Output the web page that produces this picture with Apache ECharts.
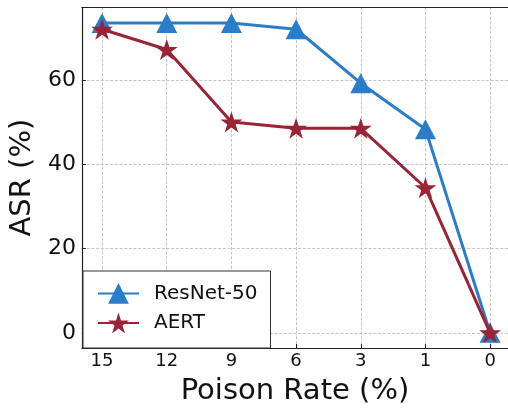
<!DOCTYPE html>
<html>
<head>
<meta charset="utf-8">
<script src="https://cdn.jsdelivr.net/npm/echarts@6/dist/echarts.min.js"></script>
<style>
  html, body { margin: 0; padding: 0; background: #fff; }
  #chart { width: 508px; height: 411px; }
</style>
</head>
<body>
<div id="chart"></div>
<script>
// Poison rates (%) shown along the x axis, highest first
const poisonRates = ['15', '12', '9', '6', '3', '1', '0'];
// Attack success rate (%) per poison rate
const resnet50 = [73.5, 73.5, 73.5, 72.0, 59.2, 48.3, 0];
const aert = [72.0, 67.2, 50.0, 48.5, 48.5, 34.4, 0];
const yTicks = [0, 20, 40, 60];

const seriesNames = ['ResNet-50', 'AERT'];
const BLUE = '#2a7dc8';
const RED = '#9b2336';
const STAR = 'path://M0,-1 L0.2245,-0.309 L0.951,-0.309 L0.363,0.118 L0.588,0.809 L0,0.382 L-0.588,0.809 L-0.363,0.118 L-0.951,-0.309 L-0.2245,-0.309 Z';
const FONT = 'DejaVu Sans';

const xIdx = poisonRates.map((_, i) => i);
const toPairs = vals => vals.map((v, i) => [i, v]);

const X_MIN = -0.312, X_MAX = 6.2765;
const spine = { show: true, onZero: false, lineStyle: { color: '#222', width: 1.2 } };
const gridLine = { show: true, lineStyle: { color: '#c4c4c4', width: 1, type: [3, 1.7] } };

const chart = echarts.init(document.getElementById('chart'), null, { renderer: 'canvas' });
chart.setOption({
  animation: false,
  backgroundColor: '#fff',
  textStyle: { fontFamily: FONT },
  grid: { left: 79, top: 7.3, right: 0, height: 343.7 },
  xAxis: [
    {
      type: 'value',
      min: X_MIN, max: X_MAX,
      name: 'Poison Rate (%)',
      nameLocation: 'middle',
      nameGap: 29,
      nameTextStyle: { fontSize: 29, color: '#111', fontFamily: FONT },
      axisLine: spine,
      axisTick: { show: true, inside: true, length: 4, customValues: xIdx, lineStyle: { color: '#222' } },
      axisLabel: {
        customValues: xIdx, margin: 4, fontSize: 18, color: '#111', fontFamily: FONT,
        formatter: v => poisonRates[Math.round(v)]
      },
      splitLine: gridLine
    },
    {
      // top frame line only
      type: 'value',
      position: 'top',
      min: X_MIN, max: X_MAX,
      axisLine: spine,
      axisTick: { show: false },
      axisLabel: { show: false },
      splitLine: { show: false }
    }
  ],
  yAxis: {
    type: 'value',
    min: -3.6, max: 77.2,
    name: 'ASR (%)',
    nameLocation: 'middle',
    nameGap: 42,
    nameTextStyle: { fontSize: 29, color: '#111', fontFamily: FONT },
    axisLine: spine,
    axisTick: { show: true, inside: true, length: 4, customValues: yTicks, lineStyle: { color: '#222' } },
    axisLabel: { customValues: yTicks, margin: 6, fontSize: 22, color: '#111', fontFamily: FONT },
    splitLine: gridLine
  },
  legend: {
    orient: 'vertical',
    left: 83, top: 271,
    padding: [12, 13, 14.6, 14],
    itemWidth: 41, itemHeight: 26, itemGap: 8.8,
    borderColor: '#333', borderWidth: 1, borderRadius: 0,
    backgroundColor: '#fff',
    textStyle: { fontSize: 20, color: '#111', fontFamily: FONT, padding: [0, 0, 0, 10] },
    data: seriesNames,
    z: 10
  },
  series: [
    {
      name: seriesNames[0],
      type: 'line',
      data: toPairs(resnet50),
      symbol: 'triangle',
      symbolSize: [21, 20],
      color: BLUE,
      lineStyle: { color: BLUE, width: 3 },
      itemStyle: { color: BLUE },
      z: 2
    },
    {
      name: seriesNames[1],
      type: 'line',
      data: toPairs(aert),
      symbol: STAR,
      symbolSize: [22, 21],
      color: RED,
      lineStyle: { color: RED, width: 3 },
      itemStyle: { color: RED },
      z: 3
    }
  ]
});
</script>
</body>
</html>
